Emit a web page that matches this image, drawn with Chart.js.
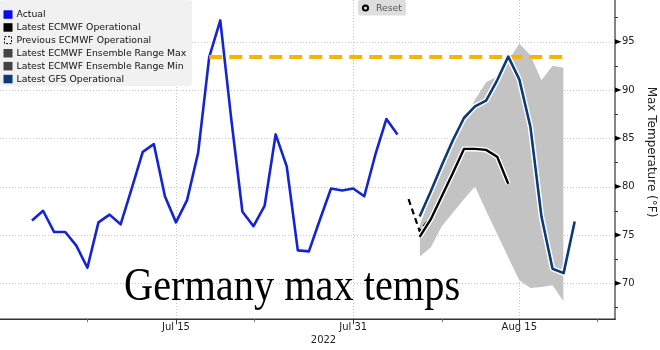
<!DOCTYPE html>
<html lang="en">
<head>
  <meta charset="UTF-8" />
  <title>Germany max temps</title>
  <script src="https://cdn.jsdelivr.net/npm/chart.js"></script>
  <style>
    * { margin: 0; padding: 0; box-sizing: border-box; }
    body { background: #fff; }
    .wrap { width: 660px; height: 350px; position: relative; }
  </style>
</head>
<body>
  <div class="wrap"><canvas id="temps"></canvas></div>

  <script>
    // daily max temperature, °F
    const actualFrom = "2022-07-02";
    const actual = [76.5, 77.5, 75.3, 75.3, 73.9, 71.6, 76.3, 77.1, 76.1, 79.8,
                    83.6, 84.4, 79.0, 76.3, 78.6, 83.5, 93.4, 97.2, 86.9, 77.4,
                    75.9, 78.0, 85.4, 82.1, 73.4, 73.3, 76.6, 79.8, 79.6, 79.8,
                    79.0, 83.3, 87.0, 85.4];

    const forecastFrom = "2022-08-06";
    const gfs = [76.9, 79.5, 82.2, 84.8, 87.1, 88.3, 88.9, 91.0, 93.45, 91.1,
                 86.2, 76.9, 71.5, 71.05, 76.4];
    const ecmwfLatest = [74.8, 76.6, 79.0, 81.4, 83.9, 83.9, 83.8, 83.1, 80.3];
    const ensMax = [76.0, 79.0, 81.8, 84.3, 86.6, 89.0, 90.8, 91.4, 93.0, 94.8,
                    93.6, 91.0, 92.5, 92.3];
    const ensMin = [72.75, 73.7, 75.9, 77.3, 78.7, 80.0, 77.5, 75.1, 72.7, 70.3,
                    69.5, 69.6, 69.8, 68.1];

    const ecmwfPrevFrom = "2022-08-05";
    const ecmwfPrev = [78.7, 75.4, 76.8];

    // record line
    const recordValue = 93.4;
    const recordSpan = ["2022-07-18", "2022-08-19"];

    const xTickDates = ["2022-07-15", "2022-07-31", "2022-08-15"];
    const xTickLabels = ["Jul 15", "Jul 31", "Aug 15"];
    const xMinorDates = ["2022-07-07", "2022-07-22", "2022-08-08", "2022-08-22"];
    const yTicks = [70, 75, 80, 85, 90, 95];
    const yMinor = [67.5, 72.5, 77.5, 82.5, 87.5, 92.5, 97.5];

    const legendItems = [
      { text: "Actual", color: "#0a0ae6" },
      { text: "Latest ECMWF Operational", color: "#000" },
      { text: "Previous ECMWF Operational", dashed: true },
      { text: "Latest ECMWF Ensemble Range Max", color: "#444" },
      { text: "Latest ECMWF Ensemble Range Min", color: "#444" },
      { text: "Latest GFS Operational", color: "#0b3a78" }
    ];

    const SANS = '"DejaVu Sans", sans-serif';

    function day(s) {
      return Date.UTC(+s.slice(0, 4), +s.slice(5, 7) - 1, +s.slice(8, 10)) / 86400000;
    }
    function series(from, values) {
      const d0 = day(from);
      return values.map((v, i) => ({ x: d0 + i, y: v }));
    }

    const xMin = day("2022-06-30") - 0.89;
    const xMax = day("2022-08-23") + 0.64;

    function line(ctx, x1, y1, x2, y2) {
      ctx.beginPath(); ctx.moveTo(x1, y1); ctx.lineTo(x2, y2); ctx.stroke();
    }

    const deco = {
      id: "deco",
      beforeDatasetsDraw(chart) {
        const { ctx, chartArea: a, scales: { x, y } } = chart;
        ctx.save();
        ctx.strokeStyle = "#c4c4c4";
        ctx.lineWidth = 1;
        ctx.setLineDash([1, 2]);
        yTicks.forEach(v => {
          const py = Math.round(y.getPixelForValue(v)) + 0.5;
          line(ctx, a.left, py, a.right, py);
        });
        xTickDates.forEach(d => {
          const px = Math.round(x.getPixelForValue(day(d))) + 0.5;
          line(ctx, px, a.top, px, a.bottom);
        });
        ctx.restore();
      },
      afterDatasetsDraw(chart) {
        const { ctx, chartArea: a, scales: { x, y } } = chart;
        ctx.save();

        // overlay title
        ctx.save();
        ctx.translate(124, 300);
        ctx.scale(0.877, 1);
        ctx.fillStyle = "#000";
        ctx.font = '46px "Liberation Serif", serif';
        ctx.textBaseline = "alphabetic";
        ctx.fillText("Germany max temps", 0, 0);
        ctx.restore();

        // axis lines
        ctx.strokeStyle = "#333";
        ctx.lineWidth = 1.5;
        line(ctx, a.left, a.bottom, a.right + 0.75, a.bottom);
        ctx.lineWidth = 1.2;
        line(ctx, a.right, a.top, a.right, a.bottom);

        // x ticks
        ctx.lineWidth = 1;
        xTickDates.forEach(d => {
          const px = Math.round(x.getPixelForValue(day(d))) + 0.5;
          line(ctx, px, a.bottom, px, a.bottom + 5);
        });
        ctx.strokeStyle = "#777";
        xMinorDates.forEach(d => {
          const px = Math.round(x.getPixelForValue(day(d))) + 0.5;
          line(ctx, px, a.bottom, px, a.bottom + 3);
        });

        // y ticks: arrowheads on majors, short marks on minors
        ctx.fillStyle = "#000";
        yTicks.forEach(v => {
          const py = y.getPixelForValue(v);
          ctx.beginPath();
          ctx.moveTo(a.right, py - 2.5);
          ctx.lineTo(a.right + 6.5, py);
          ctx.lineTo(a.right, py + 2.5);
          ctx.closePath();
          ctx.fill();
        });
        ctx.strokeStyle = "#333";
        yMinor.forEach(v => {
          const py = Math.round(y.getPixelForValue(v)) + 0.5;
          line(ctx, a.right, py, a.right + 3, py);
        });

        // axis titles
        ctx.fillStyle = "#222";
        ctx.font = "10px " + SANS;
        ctx.textAlign = "center";
        ctx.textBaseline = "middle";
        ctx.fillText("2022", (a.left + a.right) / 2 + 16, 340);

        ctx.save();
        ctx.translate(651.5, 152);
        ctx.rotate(Math.PI / 2);
        ctx.font = "12px " + SANS;
        ctx.fillText("Max Temperature (°F)", 0, 0);
        ctx.restore();

        // legend panel
        ctx.fillStyle = "#f1f1f1";
        ctx.beginPath();
        ctx.roundRect(0, 0, 192, 86, 3);
        ctx.fill();
        ctx.font = "9.3px " + SANS;
        ctx.textAlign = "left";
        ctx.textBaseline = "middle";
        legendItems.forEach((it, i) => {
          const cy = 14.3 + i * 12.9;
          if (it.dashed) {
            ctx.strokeStyle = "#000";
            ctx.lineWidth = 1;
            ctx.setLineDash([2, 1.5]);
            ctx.strokeRect(4.5, cy - 3.5, 7, 7);
            ctx.setLineDash([]);
          } else {
            ctx.fillStyle = it.color;
            ctx.fillRect(3.5, cy - 4, 9, 8.5);
          }
          ctx.fillStyle = "#111";
          ctx.fillText(it.text, 16.5, cy + 0.5);
        });

        // reset button
        ctx.fillStyle = "#dedede";
        ctx.beginPath();
        ctx.roundRect(358, 0, 48, 15.5, 2);
        ctx.fill();
        ctx.strokeStyle = "#000";
        ctx.lineWidth = 2;
        ctx.beginPath();
        ctx.arc(365.5, 8, 2.6, 0, Math.PI * 2);
        ctx.stroke();
        ctx.fillStyle = "#555";
        ctx.font = "9.3px " + SANS;
        ctx.fillText("Reset", 376, 8.5);

        ctx.restore();
      }
    };

    const lineDefaults = { pointRadius: 0, tension: 0, fill: false, borderJoinStyle: "round" };

    new Chart(document.getElementById("temps"), {
      type: "line",
      data: {
        datasets: [
          { ...lineDefaults, label: "Latest GFS Operational", data: series(forecastFrom, gfs),
            borderColor: "#0b3a78", borderWidth: 2.6, order: 0 },
          { ...lineDefaults, label: "gfs-halo", data: series(forecastFrom, gfs),
            borderColor: "#fff", borderWidth: 5.5, order: 1 },
          { ...lineDefaults, label: "Latest ECMWF Operational", data: series(forecastFrom, ecmwfLatest),
            borderColor: "#000", borderWidth: 2.4, order: 2 },
          { ...lineDefaults, label: "ecmwf-halo", data: series(forecastFrom, ecmwfLatest),
            borderColor: "#fff", borderWidth: 5, order: 3 },
          { ...lineDefaults, label: "Previous ECMWF Operational", data: series(ecmwfPrevFrom, ecmwfPrev),
            borderColor: "#000", borderWidth: 2.2, borderDash: [6, 4], order: 4 },
          { ...lineDefaults, label: "record", data: recordSpan.map(d => ({ x: day(d), y: recordValue })),
            borderColor: "#f7b500", borderWidth: 4, borderDash: [13, 7], borderCapStyle: "butt", order: 5 },
          { ...lineDefaults, label: "Actual", data: series(actualFrom, actual),
            borderColor: "#1424d4", borderWidth: 2.6, order: 6 },
          { ...lineDefaults, label: "Latest ECMWF Ensemble Range Max", data: series(forecastFrom, ensMax),
            borderWidth: 0, borderColor: "rgba(0,0,0,0)", backgroundColor: "#c3c3c3", fill: "+1", order: 7 },
          { ...lineDefaults, label: "Latest ECMWF Ensemble Range Min", data: series(forecastFrom, ensMin),
            borderWidth: 0, borderColor: "rgba(0,0,0,0)", order: 8 }
        ]
      },
      options: {
        responsive: true,
        maintainAspectRatio: false,
        animation: false,
        layout: { padding: 0 },
        plugins: { legend: { display: false }, tooltip: { enabled: false } },
        scales: {
          x: {
            type: "linear",
            min: xMin,
            max: xMax,
            afterBuildTicks: s => { s.ticks = xTickDates.map(d => ({ value: day(d) })); },
            afterFit: s => {
              s.height = 30.7;
              s.paddingLeft = 0; s.paddingRight = 0;
            },
            grid: { display: false, drawTicks: false },
            border: { display: false },
            ticks: {
              autoSkip: false,
              maxRotation: 0,
              padding: 2,
              color: "#222",
              font: { family: SANS, size: 10 },
              callback: v => xTickLabels[xTickDates.findIndex(d => day(d) === v)]
            }
          },
          y: {
            position: "right",
            min: 66.27,
            max: 99.31,
            afterBuildTicks: s => { s.ticks = yTicks.map(v => ({ value: v })); },
            afterFit: s => {
              s.width = 45;
              s.paddingTop = 0; s.paddingBottom = 0;
            },
            grid: { display: false, drawTicks: false },
            border: { display: false },
            ticks: {
              autoSkip: false,
              padding: 7,
              color: "#222",
              font: { family: SANS, size: 10 }
            }
          }
        }
      },
      plugins: [deco]
    });
  </script>
</body>
</html>
